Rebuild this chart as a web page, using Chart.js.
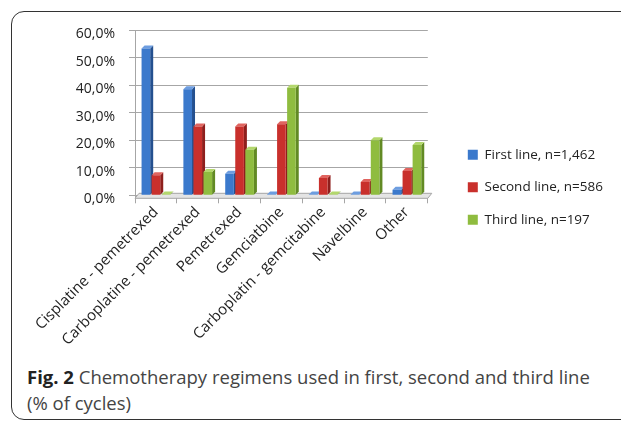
<!DOCTYPE html>
<html lang="en">
  <head>
    <meta charset="UTF-8" />
    <title>Fig. 2</title>
    <style>
      body { margin: 0; background: #fff; }
      #frame {
        position: absolute; left: 11px; top: 11px; width: 630px; height: 407px;
        border: 1.5px solid #333; border-radius: 13px;
      }
      #wrap { position: absolute; left: 0; top: 0; }
      #caption {
        position: absolute; left: 27px; top: 364px; width: 600px; white-space: nowrap;
        font-family: "Open Sans", sans-serif; font-size: 18.5px; line-height: 26px; color: #444;
      }
      #caption b { color: #222; }
    </style>
  </head>
  <body>
    <div id="frame"></div>
    <div id="wrap"><canvas id="myChart" width="621" height="362"></canvas></div>
    <div id="caption"><b>Fig. 2</b> Chemotherapy regimens used in first, second and third line<br>(% of cycles)</div>

    <script src="https://cdn.jsdelivr.net/npm/chart.js@4/dist/chart.umd.min.js"></script>
    <script>
      const regimens = [
        "Cisplatine - pemetrexed",
        "Carboplatine - pemetrexed",
        "Pemetrexed",
        "Gemciatbine",
        "Carboplatin - gemcitabine",
        "Navelbine",
        "Other"
      ];
      const firstLine = [53.3, 38.5, 7.8, 0.3, 0.3, 0.3, 2.0];
      const secondLine = [7.3, 25.0, 25.0, 25.8, 6.3, 4.8, 8.8];
      const thirdLine = [0.3, 8.5, 16.5, 39.0, 0.3, 20.0, 18.3];
      const seriesNames = ["First line, n=1,462", "Second line, n=586", "Third line, n=197"];
      const yTicks = [0, 10, 20, 30, 40, 50, 60];

      const frontCol = ["#3b79cc", "#c9302c", "#8fbc3f"];
      const sideCol = ["#24508f", "#8e1f1d", "#628a24"];
      const topCol = ["#6d9de0", "#e0645f", "#b3d76c"];
      const depth = 3;

      // fake 3d: floor, then side and top faces behind the front faces
      const bar3d = {
        id: "bar3d",
        beforeDatasetsDraw(chart) {
          const ctx = chart.ctx;
          const a = chart.chartArea;
          ctx.save();
          ctx.fillStyle = "#e4e4e4";
          ctx.strokeStyle = "#a6a6a6";
          ctx.lineWidth = 1;
          ctx.beginPath();
          ctx.moveTo(a.left, a.bottom + 3);
          ctx.lineTo(a.right, a.bottom + 3);
          ctx.lineTo(a.right + 4, a.bottom - 2);
          ctx.lineTo(a.left + 4, a.bottom - 2);
          ctx.closePath();
          ctx.fill();
          ctx.stroke();
          chart.data.datasets.forEach((ds, i) => {
            chart.getDatasetMeta(i).data.forEach(bar => {
              const p = bar.getProps(["x", "y", "base", "width"], true);
              const l = p.x - p.width / 2, r = p.x + p.width / 2;
              ctx.fillStyle = sideCol[i];
              ctx.beginPath();
              ctx.moveTo(r, p.y);
              ctx.lineTo(r + depth, p.y - depth);
              ctx.lineTo(r + depth, p.base - depth);
              ctx.lineTo(r, p.base);
              ctx.closePath();
              ctx.fill();
              ctx.fillStyle = topCol[i];
              ctx.beginPath();
              ctx.moveTo(l, p.y);
              ctx.lineTo(l + depth, p.y - depth);
              ctx.lineTo(r + depth, p.y - depth);
              ctx.lineTo(r, p.y);
              ctx.closePath();
              ctx.fill();
            });
          });
          ctx.restore();
        }
      };

      const ctx = document.getElementById("myChart").getContext("2d");
      const chart = new Chart(ctx, {
        type: "bar",
        data: {
          labels: regimens,
          datasets: [
            { label: seriesNames[0], data: firstLine, backgroundColor: frontCol[0] },
            { label: seriesNames[1], data: secondLine, backgroundColor: frontCol[1] },
            { label: seriesNames[2], data: thirdLine, backgroundColor: frontCol[2] }
          ]
        },
        options: {
          responsive: false,
          animation: false,
          devicePixelRatio: 1,
          layout: { padding: { top: 30, right: 8, bottom: 13, left: 0 } },
          datasets: { bar: { categoryPercentage: 0.72, barPercentage: 0.86 } },
          scales: {
            x: {
              grid: { drawOnChartArea: false, color: "#a6a6a6", tickLength: 8 },
              border: { display: false },
              ticks: {
                autoSkip: false, maxRotation: 45, minRotation: 45, padding: 0,
                color: "#222", font: { family: "Open Sans", size: 15 }
              }
            },
            y: {
              min: 0, max: 60,
              afterFit: s => { s.width = 135; },
              afterBuildTicks: s => { s.ticks = yTicks.map(v => ({ value: v })); },
              grid: { color: "#a6a6a6", tickLength: 6 },
              border: { color: "#a6a6a6" },
              ticks: {
                padding: 14, labelOffset: 4, color: "#222",
                font: { family: "Open Sans", size: 14 },
                callback: v => v.toFixed(1).replace(".", ",") + "%"
              }
            },
            gap: {
              position: "right",
              afterFit: s => { s.width = 21; },
              grid: { display: false },
              border: { display: false },
              ticks: { display: false }
            }
          },
          plugins: {
            tooltip: { enabled: false },
            legend: {
              position: "right",
              align: "start",
              maxWidth: 300,
              title: { display: true, text: "", font: { size: 12, lineHeight: 1 }, padding: { top: 87, bottom: 0 } },
              labels: {
                boxWidth: 10, boxHeight: 10, padding: 19, color: "#222",
                font: { family: "Open Sans", size: 13.5 }
              }
            }
          }
        },
        plugins: [bar3d]
      });
    </script>
  </body>
</html>
